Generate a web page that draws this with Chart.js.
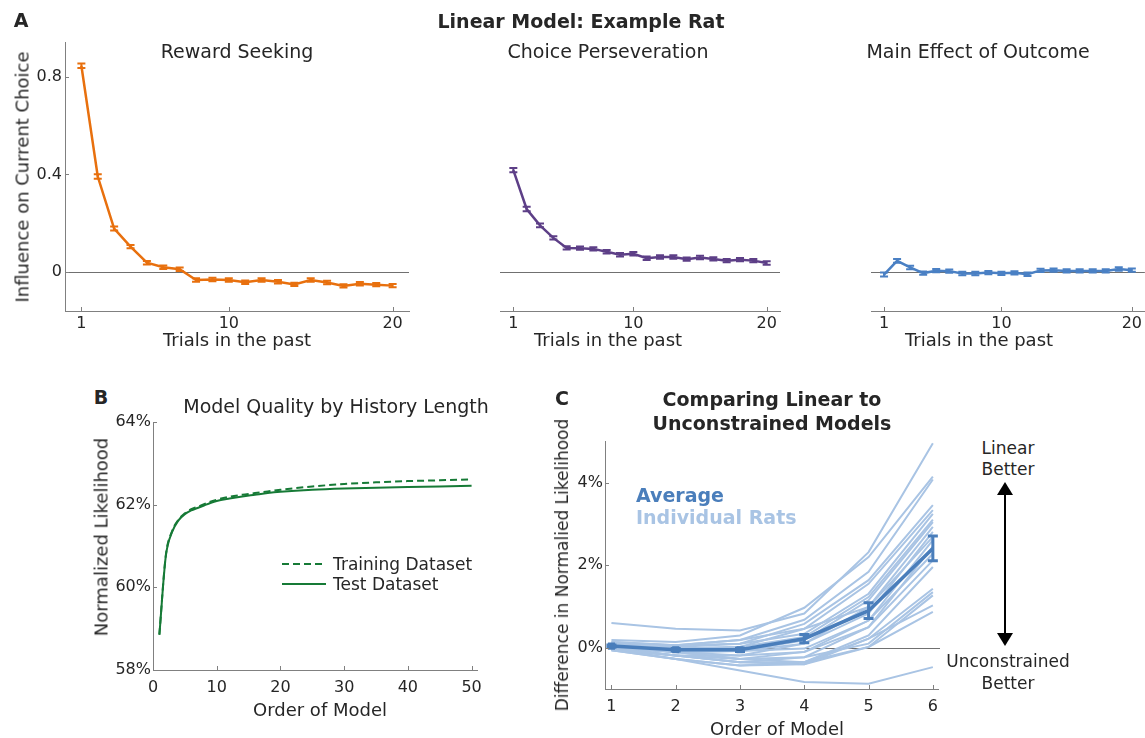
<!DOCTYPE html>
<html>
<head>
<meta charset="utf-8">
<script src="https://cdn.jsdelivr.net/npm/chart.js@4.4.1/dist/chart.umd.min.js"></script>
<style>
body { margin: 0; background: #fff; font-family: "DejaVu Sans", Verdana, sans-serif; color: #262626; }
#fig { position: relative; width: 1145px; height: 738px; overflow: hidden; }
canvas { position: absolute; }
.t { position: absolute; white-space: nowrap; transform: translate(-50%, -50%); font-size: 18px; }
.l { position: absolute; white-space: nowrap; transform: translate(0, -50%); }
.r { transform: translate(-50%, -50%) rotate(-90deg); }
.b { font-weight: bold; }
</style>
</head>
<body>
<div id="fig">
  <canvas id="a1" width="420" height="306" style="left:0;top:30px"></canvas>
  <canvas id="a2" width="370" height="306" style="left:420px;top:30px"></canvas>
  <canvas id="a3" width="355" height="306" style="left:790px;top:30px"></canvas>
  <canvas id="b" width="410" height="300" style="left:80px;top:410px"></canvas>
  <canvas id="c" width="410" height="290" style="left:540px;top:430px"></canvas>

  <div class="t b" style="left:21px;top:20px;font-size:19px">A</div>
  <div class="t b" style="left:581px;top:21px;font-size:19px">Linear Model: Example Rat</div>
  <div class="t" style="left:237px;top:51px;font-size:19px">Reward Seeking</div>
  <div class="t" style="left:608px;top:51px;font-size:19px">Choice Perseveration</div>
  <div class="t" style="left:978px;top:51px;font-size:19px">Main Effect of Outcome</div>
  <div class="t" style="left:237px;top:339px">Trials in the past</div>
  <div class="t" style="left:608px;top:339px">Trials in the past</div>
  <div class="t" style="left:979px;top:339px">Trials in the past</div>
  <div class="t r" style="left:22px;top:177px">Influence on Current Choice</div>

  <div class="t b" style="left:101px;top:397px;font-size:19px">B</div>
  <div class="t" style="left:336px;top:406px;font-size:19px">Model Quality by History Length</div>
  <div class="t r" style="left:101px;top:537px">Normalized Likelihood</div>
  <div class="t" style="left:320px;top:709px">Order of Model</div>
  <svg style="position:absolute;left:280px;top:555px" width="50" height="40">
    <line x1="2" y1="9" x2="46" y2="9" stroke="#167a36" stroke-width="2" stroke-dasharray="7,4"/>
    <line x1="2" y1="29" x2="46" y2="29" stroke="#167a36" stroke-width="2"/>
  </svg>
  <div class="l" style="left:333px;top:564px;font-size:17px">Training Dataset</div>
  <div class="l" style="left:333px;top:584px;font-size:17px">Test Dataset</div>

  <div class="t b" style="left:562px;top:398px;font-size:19px">C</div>
  <div class="t b" style="left:772px;top:399px;font-size:19px">Comparing Linear to</div>
  <div class="t b" style="left:772px;top:423px;font-size:19px">Unconstrained Models</div>
  <div class="t r" style="left:562px;top:565px;font-size:17px">Difference in Normalied Likelihood</div>
  <div class="t" style="left:777px;top:728px">Order of Model</div>
  <div class="l b" style="left:636px;top:495px;font-size:19px;color:#4a7ebb">Average</div>
  <div class="l b" style="left:636px;top:517px;font-size:19px;color:#a9c4e4">Individual Rats</div>
  <svg style="position:absolute;left:990px;top:478px" width="30" height="175">
    <line x1="15" y1="14" x2="15" y2="156" stroke="#000" stroke-width="2"/>
    <polygon points="15,4 7,17 23,17" fill="#000"/>
    <polygon points="15,168 7,155 23,155" fill="#000"/>
  </svg>
  <div class="t" style="left:1008px;top:448px;font-size:17px">Linear</div>
  <div class="t" style="left:1008px;top:469px;font-size:17px">Better</div>
  <div class="t" style="left:1008px;top:661px;font-size:17px">Unconstrained</div>
  <div class="t" style="left:1008px;top:683px;font-size:17px">Better</div>
</div>

<script>
// panel A: weights per trial back
const trials = [1, 2, 3, 4, 5, 6, 7, 8, 9, 10, 11, 12, 13, 14, 15, 16, 17, 18, 19, 20];
const rewardSeeking = [0.845, 0.391, 0.178, 0.104, 0.038, 0.019, 0.011, -0.033, -0.031, -0.033,
  -0.042, -0.033, -0.040, -0.051, -0.033, -0.043, -0.057, -0.048, -0.052, -0.056];
const rewardErr = [0.009, 0.009, 0.008, 0.007, 0.007, 0.007, 0.007, 0.007, 0.007, 0.007,
  0.007, 0.007, 0.007, 0.007, 0.007, 0.007, 0.007, 0.007, 0.007, 0.007];
const perseveration = [0.416, 0.257, 0.190, 0.139, 0.098, 0.097, 0.094, 0.082, 0.070, 0.074,
  0.056, 0.061, 0.061, 0.052, 0.059, 0.053, 0.046, 0.050, 0.046, 0.036];
const perseverationErr = [0.009, 0.009, 0.008, 0.007, 0.007, 0.007, 0.007, 0.007, 0.007, 0.007,
  0.007, 0.007, 0.007, 0.007, 0.007, 0.007, 0.007, 0.007, 0.007, 0.007];
const outcomeEffect = [-0.011, 0.045, 0.018, -0.005, 0.005, 0.003, -0.007, -0.007, -0.003, -0.006,
  -0.004, -0.010, 0.006, 0.007, 0.004, 0.004, 0.004, 0.004, 0.012, 0.007];
const outcomeErr = [0.008, 0.008, 0.007, 0.007, 0.007, 0.007, 0.007, 0.007, 0.007, 0.007,
  0.007, 0.007, 0.007, 0.007, 0.007, 0.007, 0.007, 0.007, 0.007, 0.007];
const trialTicks = [1, 10, 20];
const weightTicks = [0, 0.4, 0.8];

// panel B: normalized likelihood (%) vs model order
const orderB = [1, 2, 3, 4, 5, 6, 7, 8, 9, 10, 12, 14, 16, 18, 20, 25, 30, 35, 40, 45, 50];
const trainLL = [58.86, 60.76, 61.36, 61.64, 61.79, 61.89, 61.95, 62.01, 62.07, 62.12, 62.19,
  62.24, 62.28, 62.32, 62.36, 62.44, 62.50, 62.54, 62.57, 62.59, 62.61];
const testLL = [58.85, 60.74, 61.34, 61.62, 61.77, 61.86, 61.92, 61.98, 62.04, 62.09, 62.15,
  62.20, 62.24, 62.28, 62.31, 62.36, 62.39, 62.41, 62.43, 62.44, 62.46];
const orderTicksB = [0, 10, 20, 30, 40, 50];
const llTicks = [58, 60, 62, 64];

// panel C: linear minus unconstrained (%)
const orderC = [1, 2, 3, 4, 5, 6];
const avgDiff = [0.04, -0.05, -0.05, 0.22, 0.90, 2.41];
const avgErr = [0.03, 0.03, 0.04, 0.10, 0.19, 0.30];
const ratDiffs = [
  [0.60, 0.46, 0.42, 0.83, 2.32, 4.96],
  [0.19, 0.14, 0.30, 0.97, 2.20, 4.15],
  [0.14, 0.06, 0.19, 0.68, 1.84, 4.08],
  [0.06, 0.02, 0.10, 0.58, 1.64, 3.46],
  [0.02, -0.02, 0.02, 0.46, 1.55, 3.34],
  [0.10, 0.06, 0.10, 0.34, 1.31, 3.25],
  [0.06, -0.02, 0.02, 0.26, 1.23, 3.11],
  [0.02, -0.10, -0.08, 0.18, 1.15, 3.05],
  [0.14, 0.06, 0.19, 0.46, 0.99, 2.93],
  [0.02, -0.10, -0.08, 0.10, 0.83, 2.81],
  [-0.02, -0.19, -0.19, 0.10, 0.99, 2.69],
  [0.06, -0.02, -0.08, -0.02, 0.66, 2.61],
  [-0.02, -0.10, -0.19, -0.10, 0.50, 2.45],
  [-0.06, -0.19, -0.27, -0.10, 0.66, 2.28],
  [0.02, -0.10, -0.27, -0.23, 0.50, 2.12],
  [-0.02, -0.19, -0.35, -0.35, 0.30, 1.96],
  [-0.06, -0.27, -0.43, -0.40, 0.22, 1.43],
  [0.02, -0.19, -0.35, -0.23, 0.10, 1.35],
  [-0.02, -0.27, -0.43, -0.35, 0.02, 1.27],
  [0.06, -0.10, -0.27, -0.35, 0.22, 1.03],
  [-0.02, -0.19, -0.35, -0.40, 0.02, 0.87],
  [-0.06, -0.27, -0.55, -0.83, -0.87, -0.47]
];
const diffTicks = [0, 2, 4];

const axisColor = '#808080';
const tickFont = { family: 'DejaVu Sans', size: 16 };

const innerTicks = {
  id: 'innerTicks',
  afterDraw(chart) {
    const ctx = chart.ctx, a = chart.chartArea;
    ctx.save();
    ctx.strokeStyle = axisColor;
    ctx.lineWidth = 1;
    Object.values(chart.scales).forEach(s => {
      if (!s.options.display) return;
      s.ticks.forEach(t => {
        const p = Math.round(s.getPixelForValue(t.value)) + 0.5;
        ctx.beginPath();
        if (s.isHorizontal()) { ctx.moveTo(p, a.bottom); ctx.lineTo(p, a.bottom - 4); }
        else { ctx.moveTo(a.left, p); ctx.lineTo(a.left + 4, p); }
        ctx.stroke();
      });
    });
    ctx.restore();
  }
};

const zeroLine = {
  id: 'zeroLine',
  beforeDatasetsDraw(chart, args, opts) {
    if (!opts.show) return;
    const ctx = chart.ctx, a = chart.chartArea;
    const y = Math.round(chart.scales.y.getPixelForValue(0)) + 0.5;
    ctx.save();
    ctx.strokeStyle = '#707070';
    ctx.lineWidth = 1;
    ctx.beginPath();
    ctx.moveTo(a.left, y);
    ctx.lineTo(a.right + (opts.extend || 0), y);
    ctx.stroke();
    ctx.restore();
  }
};

const errorBars = {
  id: 'errorBars',
  afterDatasetsDraw(chart) {
    const ctx = chart.ctx, ys = chart.scales.y;
    chart.data.datasets.forEach((ds, i) => {
      if (!ds.errors) return;
      const meta = chart.getDatasetMeta(i);
      ctx.save();
      ctx.strokeStyle = ds.borderColor;
      ctx.lineWidth = ds.errWidth || 2;
      meta.data.forEach((pt, j) => {
        const v = ds.data[j].y, e = ds.errors[j], c = ds.capSize || 4;
        const y1 = ys.getPixelForValue(v - e), y2 = ys.getPixelForValue(v + e);
        ctx.beginPath();
        ctx.moveTo(pt.x, y1); ctx.lineTo(pt.x, y2);
        ctx.moveTo(pt.x - c, y1); ctx.lineTo(pt.x + c, y1);
        ctx.moveTo(pt.x - c, y2); ctx.lineTo(pt.x + c, y2);
        ctx.stroke();
      });
      ctx.restore();
    });
  }
};

function fixedTicks(list) {
  return s => { s.ticks = list.map(v => ({ value: v })); };
}

function trialChart(id, vals, errs, color, showY, pad) {
  new Chart(document.getElementById(id), {
    type: 'line',
    data: {
      datasets: [{
        data: trials.map((t, i) => ({ x: t, y: vals[i] })),
        errors: errs,
        borderColor: color,
        borderWidth: 2.5,
        pointRadius: 0,
        capSize: 4,
        errWidth: 2
      }]
    },
    options: {
      responsive: false,
      animation: false,
      layout: { padding: pad },
      plugins: { legend: { display: false }, tooltip: { enabled: false }, zeroLine: { show: true } },
      scales: {
        x: {
          type: 'linear', min: 0, max: 21,
          afterBuildTicks: fixedTicks(trialTicks),
          afterFit: s => { s.height = 25; },
          grid: { display: false, drawTicks: false },
          border: { color: axisColor },
          ticks: { font: tickFont, color: '#262626', padding: 3, maxRotation: 0 }
        },
        y: {
          display: showY,
          min: -0.16, max: 0.94,
          afterBuildTicks: fixedTicks(weightTicks),
          afterFit: s => { s.width = 65; },
          grid: { display: false, drawTicks: false },
          border: { color: axisColor },
          ticks: { font: tickFont, color: '#262626', padding: 3, callback: v => String(v) }
        }
      }
    },
    plugins: [zeroLine, errorBars, innerTicks]
  });
}

trialChart('a1', rewardSeeking, rewardErr, '#e8700e', true, { top: 12, right: 11, left: 0, bottom: 0 });
trialChart('a2', perseveration, perseverationErr, '#5d3f87', false, { top: 12, right: 10, left: 15, bottom: 0 });
trialChart('a3', outcomeEffect, outcomeErr, '#4a80c4', false, { top: 12, right: 0, left: 16, bottom: 0 });

new Chart(document.getElementById('b'), {
  type: 'line',
  data: {
    datasets: [
      { label: 'Training Dataset', data: orderB.map((o, i) => ({ x: o, y: trainLL[i] })),
        borderColor: '#167a36', borderWidth: 2, borderDash: [7, 4], pointRadius: 0,
        cubicInterpolationMode: 'monotone' },
      { label: 'Test Dataset', data: orderB.map((o, i) => ({ x: o, y: testLL[i] })),
        borderColor: '#167a36', borderWidth: 2, pointRadius: 0,
        cubicInterpolationMode: 'monotone' }
    ]
  },
  options: {
    responsive: false,
    animation: false,
    layout: { padding: { top: 12, right: 12, left: 0, bottom: 0 } },
    plugins: { legend: { display: false }, tooltip: { enabled: false } },
    scales: {
      x: {
        type: 'linear', min: 0, max: 51,
        afterBuildTicks: fixedTicks(orderTicksB),
        afterFit: s => { s.height = 40; },
        grid: { display: false, drawTicks: false },
        border: { color: axisColor },
        ticks: { font: tickFont, color: '#262626', padding: 8, maxRotation: 0 }
      },
      y: {
        min: 58, max: 64,
        afterBuildTicks: fixedTicks(llTicks),
        afterFit: s => { s.width = 73; },
        grid: { display: false, drawTicks: false },
        border: { color: axisColor },
        ticks: { font: tickFont, color: '#262626', padding: 2, callback: v => v + '%' }
      }
    }
  },
  plugins: [innerTicks]
});

const ratSets = ratDiffs.map(r => ({
  data: orderC.map((o, i) => ({ x: o, y: r[i] })),
  borderColor: '#a9c4e4', borderWidth: 2, pointRadius: 0, order: 1
}));

new Chart(document.getElementById('c'), {
  type: 'line',
  data: {
    datasets: [{
      data: orderC.map((o, i) => ({ x: o, y: avgDiff[i] })),
      errors: avgErr,
      borderColor: '#4a7ebb', backgroundColor: '#4a7ebb', borderWidth: 3.5,
      pointStyle: 'rect', pointRadius: [5, 5, 5, 0, 0, 0], pointBorderWidth: 0,
      capSize: 5, errWidth: 3, order: 0
    }].concat(ratSets)
  },
  options: {
    responsive: false,
    animation: false,
    layout: { padding: { top: 11, right: 12, left: 0, bottom: 0 } },
    plugins: { legend: { display: false }, tooltip: { enabled: false }, zeroLine: { show: true, extend: 2 } },
    scales: {
      x: {
        type: 'linear', min: 0.9, max: 6.08,
        afterBuildTicks: fixedTicks(orderC),
        afterFit: s => { s.height = 31; },
        grid: { display: false, drawTicks: false },
        border: { color: axisColor },
        ticks: { font: tickFont, color: '#262626', padding: 8, maxRotation: 0 }
      },
      y: {
        min: -1, max: 5,
        afterBuildTicks: fixedTicks(diffTicks),
        afterFit: s => { s.width = 65; },
        grid: { display: false, drawTicks: false },
        border: { color: axisColor },
        ticks: { font: tickFont, color: '#262626', padding: 2, callback: v => v + '%' }
      }
    }
  },
  plugins: [zeroLine, errorBars, innerTicks]
});
</script>
</body>
</html>
